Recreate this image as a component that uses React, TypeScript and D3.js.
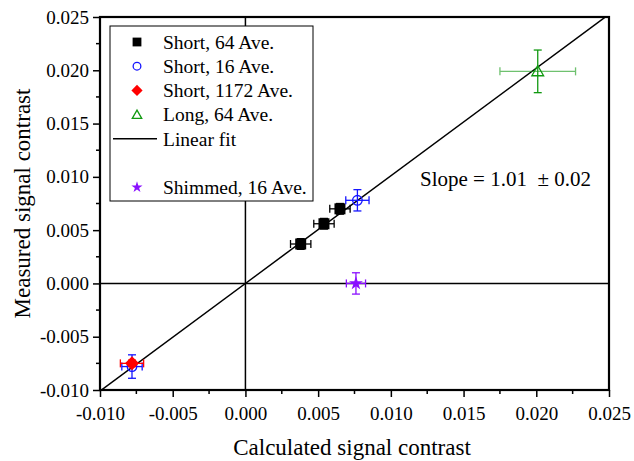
import React, { useEffect, useRef } from "react";
import * as d3 from "d3";

// data
const shortX = [0.0038, 0.0054, 0.0065];
const shortY = [0.0037, 0.0056, 0.0070];
const shortXErr = [0.0007, 0.0007, 0.0007];
const shortYErr = [0.0005, 0.0005, 0.0005];

const short16X = [0.0077, -0.0078];
const short16Y = [0.0078, -0.0078];
const short16XErr = [0.0008, 0.0007];
const short16YErr = [0.001, 0.0011];

const short1172X = [-0.0078];
const short1172Y = [-0.0075];
const short1172XErr = [0.0008];
const short1172YErr = [0.0003];

const longX = [0.0201];
const longY = [0.0199];
const longXErr = [0.0026];
const longYErr = [0.002];

const shimX = [0.0076];
const shimY = [0.0];
const shimXErr = [0.00066];
const shimYErr = [0.001];

const fitSlope = 1.01;
const fitIntercept = 0;

const xTicks = [-0.01, -0.005, 0, 0.005, 0.01, 0.015, 0.02, 0.025];
const yTicks = [-0.01, -0.005, 0, 0.005, 0.01, 0.015, 0.02, 0.025];

const legendItems = [
  { label: "Short, 64 Ave.", kind: "square" },
  { label: "Short, 16 Ave.", kind: "circle" },
  { label: "Short, 1172 Ave.", kind: "diamond" },
  { label: "Long, 64 Ave.", kind: "triangle" },
  { label: "Linear fit", kind: "line" },
  { label: "", kind: "none" },
  { label: "Shimmed, 16 Ave.", kind: "star" },
];

const W = 634;
const H = 461;
const margin = { top: 17, right: 25, bottom: 71, left: 100 };
const font = "Liberation Serif, DejaVu Serif, Times New Roman, serif";

export default function App() {
  const ref = useRef<SVGSVGElement>(null);

  useEffect(() => {
    const svg = d3.select(ref.current);
    svg.selectAll("*").remove();
    const innerW = W - margin.left - margin.right;
    const innerH = H - margin.top - margin.bottom;

    const x = d3.scaleLinear().domain([-0.01, 0.025]).range([0, innerW]);
    const y = d3.scaleLinear().domain([-0.01, 0.025]).range([innerH, 0]);
    const fmt = (v: number) => d3.format(".3f")(v).replace("\u2212", "-");

    const g = svg.append("g").attr("transform", `translate(${margin.left},${margin.top})`);

    svg.append("defs").append("clipPath").attr("id", "plotclip")
      .append("rect").attr("width", innerW).attr("height", innerH);

    // zero lines
    g.append("line").attr("x1", x(0)).attr("x2", x(0)).attr("y1", 0).attr("y2", innerH)
      .attr("stroke", "black").attr("stroke-width", 1.5);
    g.append("line").attr("x1", 0).attr("x2", innerW).attr("y1", y(0)).attr("y2", y(0))
      .attr("stroke", "black").attr("stroke-width", 1.5);

    // fit line
    const fitLine = d3.line<number>().x(d => x(d)).y(d => y(fitSlope * d + fitIntercept));
    g.append("path").datum([-0.01, 0.026]).attr("d", fitLine)
      .attr("clip-path", "url(#plotclip)")
      .attr("fill", "none").attr("stroke", "black").attr("stroke-width", 1.5);

    // axes
    const xAxis = g.append("g").attr("transform", `translate(0,${innerH})`)
      .call(d3.axisBottom(x).tickValues(xTicks).tickFormat(d => fmt(+d)).tickSize(7).tickSizeOuter(0));
    const yAxis = g.append("g")
      .call(d3.axisLeft(y).tickValues(yTicks).tickFormat(d => fmt(+d)).tickSize(7).tickSizeOuter(0));
    [xAxis, yAxis].forEach(a => {
      a.attr("font-family", null);
      a.select(".domain").remove();
      a.selectAll(".tick line").attr("stroke-width", 1.5);
      a.selectAll(".tick text").style("font-family", font).style("font-size", "19px").attr("fill", "black");
    });
    xAxis.selectAll(".tick text").attr("dy", "1.05em");
    yAxis.selectAll(".tick text").attr("dx", "-0.05em");

    const minors = d3.range(-0.0075, 0.025, 0.005);
    g.append("g").selectAll("line").data(minors).join("line")
      .attr("x1", d => x(d)).attr("x2", d => x(d)).attr("y1", innerH).attr("y2", innerH + 4)
      .attr("stroke", "black").attr("stroke-width", 1.5);
    g.append("g").selectAll("line").data(minors).join("line")
      .attr("y1", d => y(d)).attr("y2", d => y(d)).attr("x1", 0).attr("x2", -4)
      .attr("stroke", "black").attr("stroke-width", 1.5);

    // frame
    g.append("rect").attr("width", innerW).attr("height", innerH)
      .attr("fill", "none").attr("stroke", "black").attr("stroke-width", 2.2);

    // error bars
    const errBars = (xs: number[], ys: number[], xe: number[], ye: number[], color: string, xop = 1) => {
      const eg = g.append("g").attr("stroke", color).attr("stroke-width", 1.3);
      xs.forEach((xv, i) => {
        const cx = x(xv), cy = y(ys[i]);
        const x0 = x(xv - xe[i]), x1 = x(xv + xe[i]);
        const y0 = y(ys[i] - ye[i]), y1 = y(ys[i] + ye[i]);
        const hx = eg.append("g").attr("opacity", xop);
        hx.append("line").attr("x1", x0).attr("x2", x1).attr("y1", cy).attr("y2", cy);
        hx.append("line").attr("x1", x0).attr("x2", x0).attr("y1", cy - 4).attr("y2", cy + 4);
        hx.append("line").attr("x1", x1).attr("x2", x1).attr("y1", cy - 4).attr("y2", cy + 4);
        eg.append("line").attr("x1", cx).attr("x2", cx).attr("y1", y0).attr("y2", y1);
        eg.append("line").attr("x1", cx - 4).attr("x2", cx + 4).attr("y1", y0).attr("y2", y0);
        eg.append("line").attr("x1", cx - 4).attr("x2", cx + 4).attr("y1", y1).attr("y2", y1);
      });
    };

    const drawMarker = (sel: d3.Selection<SVGGElement, unknown, null, undefined>, kind: string, px: number, py: number, s = 1) => {
      if (kind === "square") {
        sel.append("rect").attr("x", px - 5.5 * s).attr("y", py - 5.5 * s).attr("width", 11 * s).attr("height", 11 * s).attr("fill", "black");
      } else if (kind === "circle") {
        sel.append("circle").attr("cx", px).attr("cy", py).attr("r", 4.8 * s)
          .attr("fill", "none").attr("stroke", "#1515ff").attr("stroke-width", 1.3);
      } else if (kind === "diamond") {
        const r = 7 * s;
        sel.append("path").attr("d", `M${px},${py - r}L${px + r},${py}L${px},${py + r}L${px - r},${py}Z`).attr("fill", "#ff0000");
      } else if (kind === "triangle") {
        sel.append("path").attr("d", d3.symbol(d3.symbolTriangle, 60 * s * s)())
          .attr("transform", `translate(${px},${py + 1})`)
          .attr("fill", "none").attr("stroke", "#119911").attr("stroke-width", 1.3);
      } else if (kind === "star") {
        sel.append("path").attr("d", d3.symbol(d3.symbolStar, 60 * s * s)())
          .attr("transform", `translate(${px},${py})`).attr("fill", "#8a10ff");
      }
    };

    const marks = g.append("g");
    errBars(shortX, shortY, shortXErr, shortYErr, "black");
    shortX.forEach((v, i) => drawMarker(marks, "square", x(v), y(shortY[i])));

    errBars(short16X, short16Y, short16XErr, short16YErr, "#1515ff");
    errBars(short1172X, short1172Y, short1172XErr, short1172YErr, "#ff0000");
    short16X.forEach((v, i) => drawMarker(g, "circle", x(v), y(short16Y[i])));
    short1172X.forEach((v, i) => drawMarker(g, "diamond", x(v), y(short1172Y[i])));

    errBars(longX, longY, longXErr, longYErr, "#119911", 0.6);
    longX.forEach((v, i) => drawMarker(g, "triangle", x(v), y(longY[i])));

    errBars(shimX, shimY, shimXErr, shimYErr, "#8a10ff");
    shimX.forEach((v, i) => drawMarker(g, "star", x(v), y(shimY[i])));

    // legend
    const lg = svg.append("g").attr("transform", "translate(110,26)");
    lg.append("rect").attr("width", 203).attr("height", 175)
      .attr("fill", "white").attr("stroke", "black").attr("stroke-width", 1);
    legendItems.forEach((it, i) => {
      const ly = 16 + i * 24.2;
      const row = lg.append("g");
      if (it.kind === "line") {
        row.append("line").attr("x1", 3).attr("x2", 47).attr("y1", ly).attr("y2", ly)
          .attr("stroke", "black").attr("stroke-width", 1.5);
      } else {
        drawMarker(row, it.kind, 27, ly, 0.8);
      }
      row.append("text").attr("x", 53).attr("y", ly).attr("dy", "0.35em")
        .style("font-family", font).style("font-size", "19.5px").text(it.label);
    });

    // annotation
    svg.append("text").attr("x", 420).attr("y", 186).style("white-space", "pre")
      .style("font-family", font).style("font-size", "21px").text("Slope = 1.01  \u00b1 0.02");

    // axis titles
    svg.append("text").attr("x", 352).attr("y", 455).attr("text-anchor", "middle")
      .style("font-family", font).style("font-size", "23px").text("Calculated signal contrast");
    svg.append("text").attr("transform", `translate(30,${margin.top + innerH / 2}) rotate(-90)`)
      .attr("text-anchor", "middle").style("font-family", font).style("font-size", "23px")
      .text("Measured signal contrast");
  }, []);

  return (
    <svg ref={ref} width={W} height={H}
      style={{ position: "absolute", left: 0, top: 0, background: "white" }} />
  );
}
